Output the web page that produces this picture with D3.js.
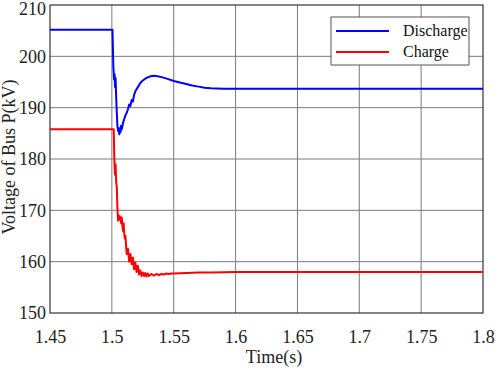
<!DOCTYPE html>
<html>
<head>
<meta charset="utf-8">
<title>Voltage of Bus P</title>
<script src="https://d3js.org/d3.v7.min.js"></script>
<style>
  body { margin: 0; background: #fff; }
  svg text { font-family: "Liberation Serif", "Times New Roman", Times, "DejaVu Serif", serif; }
</style>
</head>
<body>
<div id="chart"></div>
<script>
// data
var xTicks = [1.45, 1.5, 1.55, 1.6, 1.65, 1.7, 1.75, 1.8];
var yTicks = [150, 160, 170, 180, 190, 200, 210];
var seriesNames = ["Discharge", "Charge"];
var seriesColors = ["#0000ff", "#ff0000"];

var dischargeT = [1.45, 1.5005, 1.5012, 1.5018, 1.5022, 1.5026, 1.503, 1.5035, 1.504, 1.5045, 1.505, 1.5055, 1.506, 1.5065, 1.507, 1.5075, 1.508, 1.509, 1.510, 1.511, 1.512, 1.513, 1.514, 1.515, 1.516, 1.517, 1.518, 1.519, 1.521, 1.523, 1.525, 1.528, 1.531, 1.534, 1.537, 1.541, 1.545, 1.55, 1.555, 1.56, 1.565, 1.57, 1.575, 1.58, 1.59, 1.6, 1.8];
var dischargeV = [205.2, 205.2, 198, 195.5, 196.5, 194, 195.8, 192, 189, 186.5, 185.5, 186, 184.8, 186, 185.2, 186.5, 185.8, 187, 187.8, 188.5, 189, 189.7, 190.6, 190.3, 191.5, 191.2, 192.5, 193.2, 194, 194.8, 195.3, 195.8, 196.1, 196.2, 196.1, 195.9, 195.6, 195.2, 194.9, 194.6, 194.3, 194.1, 193.9, 193.8, 193.7, 193.7, 193.7];

var chargeT = [1.45, 1.5015, 1.502, 1.5025, 1.503, 1.5035, 1.504, 1.5045, 1.505, 1.5055, 1.506, 1.5065, 1.507, 1.5075, 1.508, 1.5085, 1.509, 1.5095, 1.510, 1.5105, 1.511, 1.5115, 1.512, 1.513, 1.514, 1.515, 1.516, 1.517, 1.518, 1.519, 1.520, 1.521, 1.522, 1.523, 1.524, 1.525, 1.526, 1.527, 1.528, 1.529, 1.530, 1.532, 1.534, 1.536, 1.538, 1.540, 1.542, 1.544, 1.546, 1.548, 1.55, 1.56, 1.57, 1.58, 1.6, 1.8];
var chargeV = [185.8, 185.8, 180, 177, 179, 175.5, 174.5, 170.5, 168, 169, 168.2, 168.8, 168.4, 167.5, 168.6, 167, 166, 167.5, 165.5, 164.5, 165, 163, 161.5, 162.5, 160, 161.5, 159.5, 160.8, 158.5, 159.8, 158, 159.2, 157.5, 158.3, 157.2, 157.9, 157.2, 157.8, 157.1, 157.7, 157.2, 157.6, 157.3, 157.6, 157.4, 157.6, 157.5, 157.7, 157.6, 157.7, 157.7, 157.8, 157.9, 157.9, 158, 158];

var W = 498, H = 370;
var mL = 50, mR = 483, mT = 5, mB = 313;
var serif = "'Liberation Serif', 'Times New Roman', Times, 'DejaVu Serif', serif";

var svg = d3.select("#chart").append("svg")
  .attr("width", W).attr("height", H);

var x = d3.scaleLinear().domain([1.45, 1.8]).range([mL, mR]);
var y = d3.scaleLinear().domain([150, 210]).range([mB, mT]);

// grid
svg.append("g").selectAll("line").data(xTicks.slice(1, -1)).enter().append("line")
  .attr("x1", d => x(d)).attr("x2", d => x(d))
  .attr("y1", mT).attr("y2", mB)
  .attr("stroke", "#7a7a7a").attr("stroke-width", 1);
svg.append("g").selectAll("line").data(yTicks.slice(1, -1)).enter().append("line")
  .attr("x1", mL).attr("x2", mR)
  .attr("y1", d => y(d)).attr("y2", d => y(d))
  .attr("stroke", "#7a7a7a").attr("stroke-width", 1);

// axes
var xAxis = d3.axisBottom(x).tickValues(xTicks).tickSize(0).tickPadding(17)
  .tickFormat(d => String(+d.toFixed(2)));
var gx = svg.append("g").attr("transform", "translate(0," + mB + ")").call(xAxis)
  .attr("font-family", serif).attr("font-size", 18);
gx.select(".domain").remove();
gx.selectAll("text").attr("fill", "#222");

var yAxis = d3.axisLeft(y).tickValues(yTicks).tickSize(0).tickPadding(4);
var gy = svg.append("g").attr("transform", "translate(" + mL + ",0)").call(yAxis)
  .attr("font-family", serif).attr("font-size", 18);
gy.select(".domain").remove();
gy.selectAll("text").attr("fill", "#222");
// keep the top label inside the page
gy.selectAll(".tick").filter(d => d === 210).select("text").attr("dy", "0.55em");

// frame
svg.append("rect").attr("x", mL).attr("y", mT)
  .attr("width", mR - mL).attr("height", mB - mT)
  .attr("fill", "none").attr("stroke", "#333").attr("stroke-width", 1.2);

// lines
var line = d3.line().x(d => x(d[0])).y(d => y(d[1]));
var series = [
  d3.zip(dischargeT, dischargeV),
  d3.zip(chargeT, chargeV)
];
series.forEach(function (s, i) {
  svg.append("path").datum(s)
    .attr("d", line)
    .attr("fill", "none")
    .attr("stroke", seriesColors[i])
    .attr("stroke-width", 2)
    .attr("stroke-linejoin", "round");
});

// legend
var lg = svg.append("g");
lg.append("rect").attr("x", 331).attr("y", 17).attr("width", 138).attr("height", 48)
  .attr("fill", "#fff").attr("stroke", "#555").attr("stroke-width", 1);
seriesNames.forEach(function (n, i) {
  var ly = 31 + i * 21;
  lg.append("line").attr("x1", 336).attr("x2", 389).attr("y1", ly).attr("y2", ly)
    .attr("stroke", seriesColors[i]).attr("stroke-width", 2);
  lg.append("text").attr("x", 403).attr("y", ly + 5).text(n)
    .attr("font-size", 16).attr("fill", "#111");
});

// axis titles
svg.append("text").attr("x", 274).attr("y", 363).attr("text-anchor", "middle")
  .attr("font-size", 18).attr("fill", "#222").text("Time(s)");
svg.append("text").attr("transform", "translate(15,157) rotate(-90)")
  .attr("text-anchor", "middle").attr("font-size", 18).attr("fill", "#222")
  .text("Voltage of Bus P(kV)");
</script>
</body>
</html>
